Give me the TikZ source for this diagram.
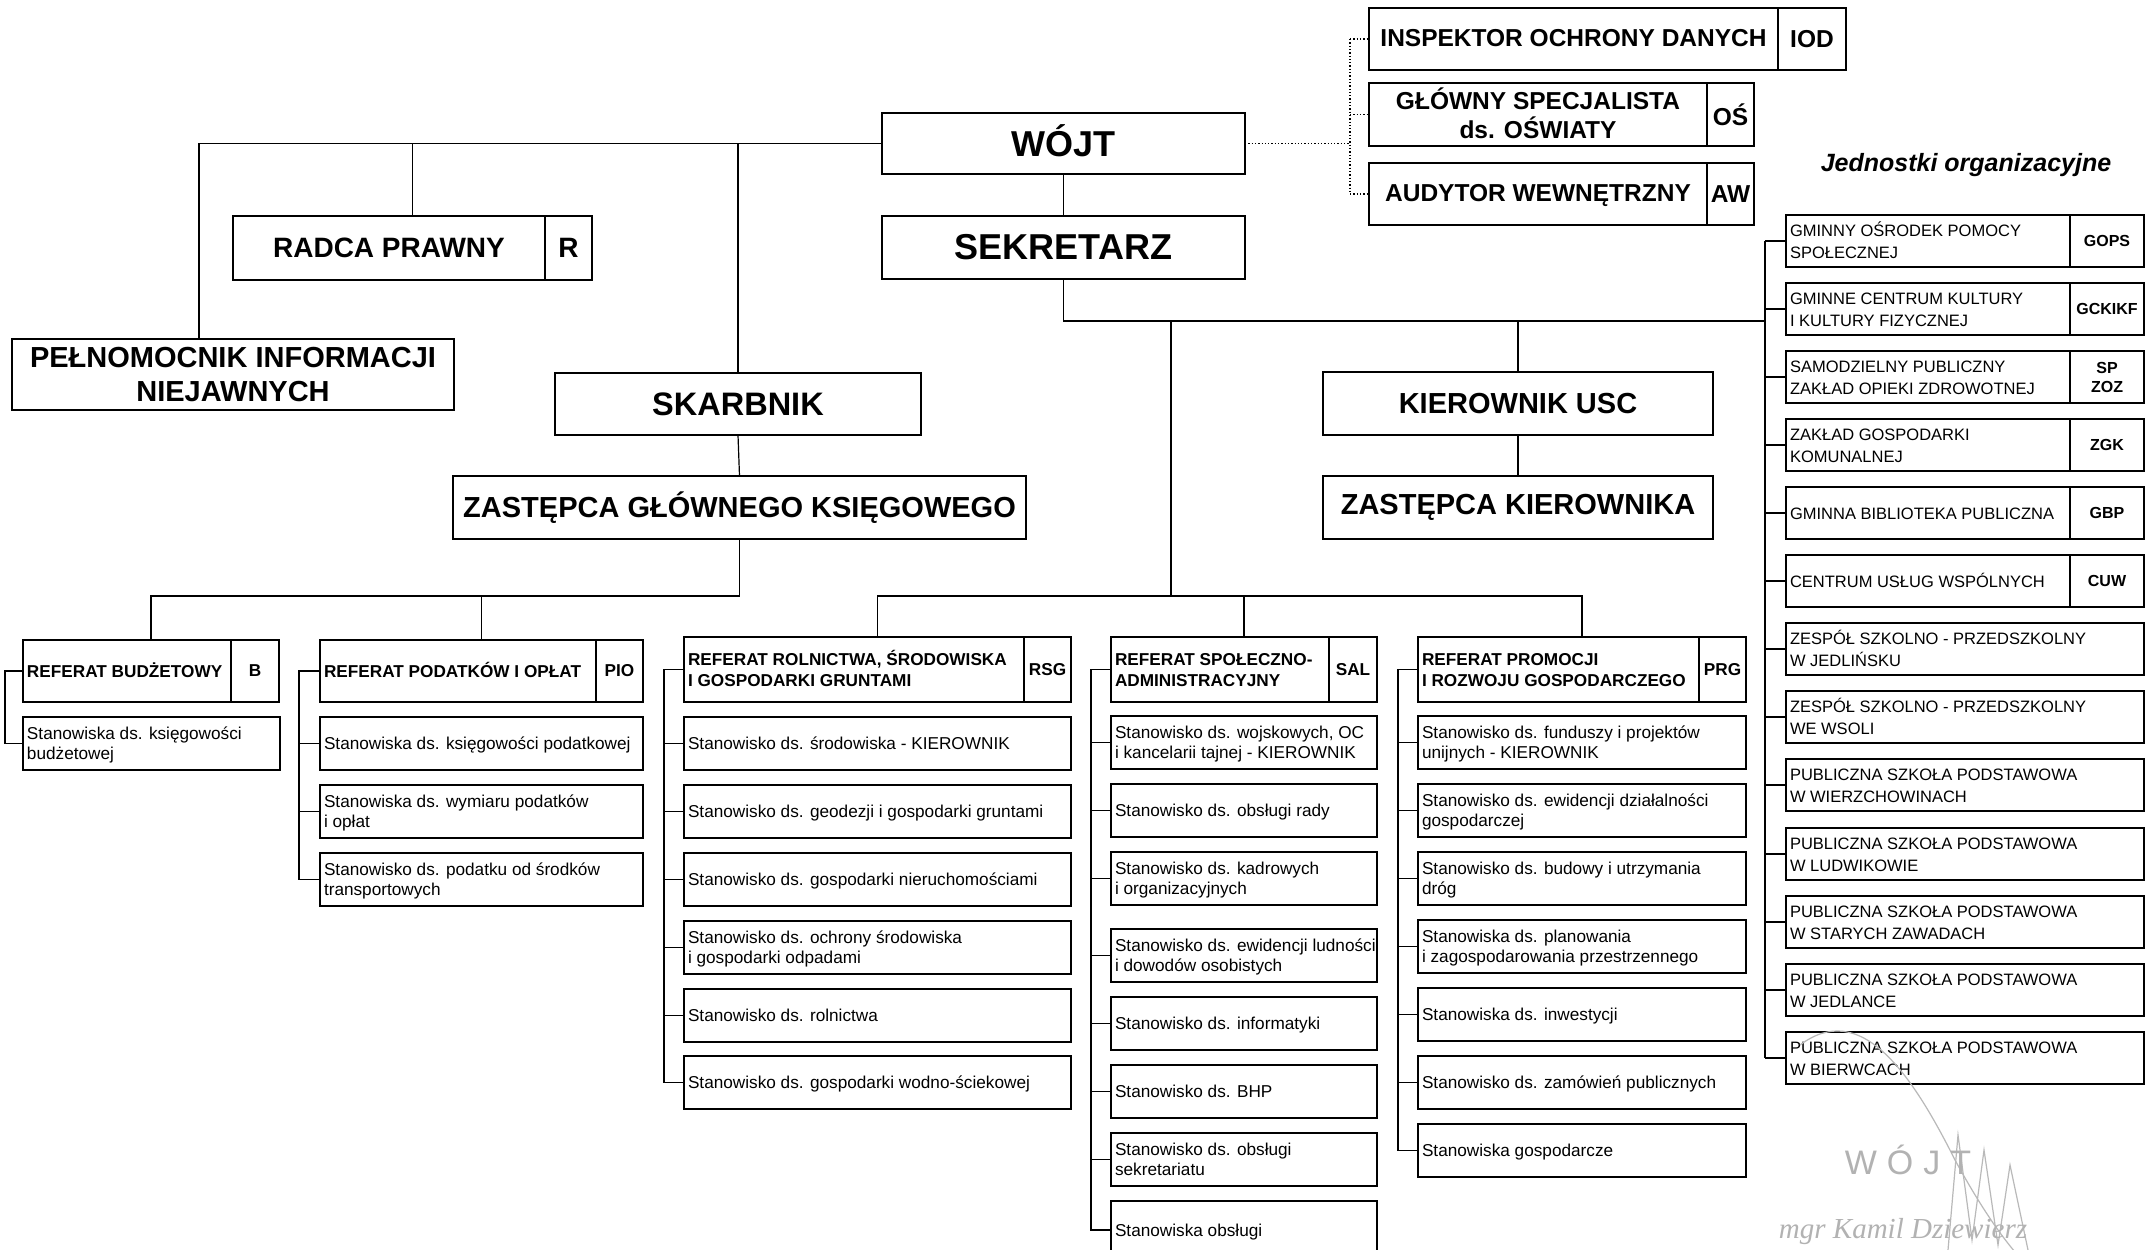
\documentclass[tikz,border=0pt]{standalone}
\usepackage{fontspec}
\setmainfont{Liberation Sans}
\newfontfamily\sigfont{Liberation Serif}
\tikzset{
 obox/.style={draw, line width=1.3pt, inner xsep=4pt, inner ysep=0pt, anchor=north west, outer sep=0pt},
 big/.style={font=\fontsize{29}{34}\selectfont\bfseries},
 top/.style={font=\fontsize{36}{40}\selectfont\bfseries},
 skb/.style={font=\fontsize{32.5}{36}\selectfont\bfseries},
 rp/.style={font=\fontsize{28}{32}\selectfont\bfseries},
 rp code/.style={inner xsep=1pt, font=\fontsize{28}{32}\selectfont\bfseries},
 mid/.style={font=\fontsize{24.5}{26}\selectfont\bfseries},
 mid code/.style={inner xsep=1pt, font=\fontsize{24.5}{26}\selectfont\bfseries},
 hdr/.style={font=\fontsize{17.2}{21}\selectfont\bfseries},
 hdr code/.style={inner xsep=1pt, font=\fontsize{17.2}{21}\selectfont\bfseries},
 sub/.style={font=\fontsize{17.2}{20.5}\selectfont},
 unit/.style={font=\fontsize{16.5}{21.5}\selectfont},
 unit code/.style={inner xsep=1pt, font=\fontsize{16}{19}\selectfont\bfseries},
 conn/.style={line width=1.2pt},
 dotc/.style={line width=1.3pt, dotted},
}
% lowered content with unchanged extents
\newcommand\lowr[1]{\raisebox{-0.1\baselineskip}[\height][\depth]{#1}}
% left-aligned single-cell box
\newcommand\LB[7]{%
  \pgfmathsetmacro\boxw{#5-#3}%
  \pgfmathsetmacro\boxtw{#5-#3-8}%
  \node[obox,#2,minimum width=\boxw pt,minimum height=#6pt] (#1) at (#3,#4)
    {\makebox[\boxtw pt][l]{\lowr{\begin{tabular}{@{}l@{}}#7\end{tabular}}}};}
% centred single-cell box
\newcommand\CB[7]{%
  \pgfmathsetmacro\boxw{#5-#3}%
  \node[obox,#2,minimum width=\boxw pt,minimum height=#6pt,align=center] (#1) at (#3,#4) {#7};}
% box with code cell, left-aligned text
\newcommand\HBl[9]{%
  \pgfmathsetmacro\boxw{#5-#3}%
  \pgfmathsetmacro\boxtw{#5-#3-8}%
  \pgfmathsetmacro\celltw{#7-#3-8}%
  \pgfmathsetmacro\codew{#5-#7}%
  \node[obox,#2,minimum width=\boxw pt,minimum height=#6pt] (#1) at (#3,#4)
    {\makebox[\boxtw pt][l]{\makebox[\celltw pt][l]{\lowr{\begin{tabular}{@{}l@{}}#8\end{tabular}}}}};
  \node[obox,#2 code,minimum width=\codew pt,minimum height=#6pt,align=center] (#1c) at (#7,#4) {#9};}
% box with code cell, centred text
\newcommand\HBc[9]{%
  \pgfmathsetmacro\boxw{#5-#3}%
  \pgfmathsetmacro\boxtw{#5-#3-8}%
  \pgfmathsetmacro\celltw{#7-#3-8}%
  \pgfmathsetmacro\codew{#5-#7}%
  \node[obox,#2,minimum width=\boxw pt,minimum height=#6pt] (#1) at (#3,#4)
    {\makebox[\boxtw pt][l]{\makebox[\celltw pt][c]{\lowr{\begin{tabular}{@{}c@{}}#8\end{tabular}}}}};
  \node[obox,#2 code,minimum width=\codew pt,minimum height=#6pt,align=center] (#1c) at (#7,#4) {#9};}
\begin{document}
\begin{tikzpicture}[x=1pt,y=-1pt]
\fill[white] (0,0) rectangle (2145,1250);
\useasboundingbox (0,0) rectangle (2145,1250);

% ---- top level
\CB{wojt}{top,text height=25.8pt,text depth=0pt}{882}{113}{1245}{61}{WÓJT}
\CB{sek}{top}{882}{216}{1245}{63}{SEKRETARZ}
\HBc{radca}{rp}{233}{216}{592}{64}{545}{RADCA PRAWNY}{R}
\CB{pel}{big}{12}{339}{454}{71}{PEŁNOMOCNIK INFORMACJI\\NIEJAWNYCH}
\CB{skarb}{skb}{555}{373}{921}{62}{SKARBNIK}
\CB{zgl}{big}{453}{476}{1026}{63}{ZASTĘPCA GŁÓWNEGO KSIĘGOWEGO}
\CB{kusc}{big}{1323}{372}{1713}{63}{KIEROWNIK USC}
\CB{zkier}{big}{1323}{476}{1713}{63}{ZASTĘPCA KIEROWNIKA}

% ---- top right
\HBc{iod}{mid}{1369}{8}{1846}{62}{1778}{INSPEKTOR OCHRONY DANYCH}{IOD}
\HBc{os}{mid}{1369}{83}{1754}{63}{1707}{GŁÓWNY SPECJALISTA\\ds. OŚWIATY}{OŚ}
\HBc{aw}{mid}{1369}{163}{1754}{62}{1707}{AUDYTOR WEWNĘTRZNY}{AW}
\node[font=\fontsize{25}{28}\selectfont\bfseries\itshape] (jo) at (1966,165) {Jednostki organizacyjne};

% ---- organisational units
\HBl{u1}{unit}{1786}{215}{2144}{52}{2070}{GMINNY OŚRODEK POMOCY\\SPOŁECZNEJ}{GOPS}
\HBl{u2}{unit}{1786}{283}{2144}{52}{2070}{GMINNE CENTRUM KULTURY\\I KULTURY FIZYCZNEJ}{GCKIKF}
\HBl{u3}{unit}{1786}{351}{2144}{52}{2070}{SAMODZIELNY PUBLICZNY\\ZAKŁAD OPIEKI ZDROWOTNEJ}{SP\\ZOZ}
\HBl{u4}{unit}{1786}{419}{2144}{52}{2070}{ZAKŁAD GOSPODARKI\\KOMUNALNEJ}{ZGK}
\HBl{u5}{unit}{1786}{487}{2144}{52}{2070}{GMINNA BIBLIOTEKA PUBLICZNA}{GBP}
\HBl{u6}{unit}{1786}{555}{2144}{52}{2070}{CENTRUM USŁUG WSPÓLNYCH}{CUW}
\LB{u7}{unit}{1786}{623}{2144}{52}{ZESPÓŁ SZKOLNO - PRZEDSZKOLNY\\W JEDLIŃSKU}
\LB{u8}{unit}{1786}{691}{2144}{52}{ZESPÓŁ SZKOLNO - PRZEDSZKOLNY\\WE WSOLI}
\LB{u9}{unit}{1786}{759}{2144}{52}{PUBLICZNA SZKOŁA PODSTAWOWA\\W WIERZCHOWINACH}
\LB{u10}{unit}{1786}{828}{2144}{52}{PUBLICZNA SZKOŁA PODSTAWOWA\\W LUDWIKOWIE}
\LB{u11}{unit}{1786}{896}{2144}{52}{PUBLICZNA SZKOŁA PODSTAWOWA\\W STARYCH ZAWADACH}
\LB{u12}{unit}{1786}{964}{2144}{52}{PUBLICZNA SZKOŁA PODSTAWOWA\\W JEDLANCE}
\LB{u13}{unit}{1786}{1032}{2144}{52}{PUBLICZNA SZKOŁA PODSTAWOWA\\W BIERWCACH}

% ---- referaty
\HBl{rbud}{hdr}{23}{640}{279}{62}{231}{REFERAT BUDŻETOWY}{B}
\LB{rbud1}{sub}{23}{717}{280}{53}{Stanowiska ds. księgowości\\budżetowej}

\HBl{rpod}{hdr}{320}{640}{643}{62}{596}{REFERAT PODATKÓW I OPŁAT}{PIO}
\LB{rpod1}{sub}{320}{717}{643}{53}{Stanowiska ds. księgowości podatkowej}
\LB{rpod2}{sub}{320}{785}{643}{53}{Stanowiska ds. wymiaru podatków\\i opłat}
\LB{rpod3}{sub}{320}{853}{643}{53}{Stanowisko ds. podatku od środków\\transportowych}

\HBl{rrol}{hdr}{684}{637}{1071}{65}{1024}{REFERAT ROLNICTWA, ŚRODOWISKA\\I GOSPODARKI GRUNTAMI}{RSG}
\LB{rrol1}{sub}{684}{717}{1071}{53}{Stanowisko ds. środowiska - KIEROWNIK}
\LB{rrol2}{sub}{684}{785}{1071}{53}{Stanowisko ds. geodezji i gospodarki gruntami}
\LB{rrol3}{sub}{684}{853}{1071}{53}{Stanowisko ds. gospodarki nieruchomościami}
\LB{rrol4}{sub}{684}{921}{1071}{53}{Stanowisko ds. ochrony środowiska\\i gospodarki odpadami}
\LB{rrol5}{sub}{684}{989}{1071}{53}{Stanowisko ds. rolnictwa}
\LB{rrol6}{sub}{684}{1056}{1071}{53}{Stanowisko ds. gospodarki wodno-ściekowej}

\HBl{rspo}{hdr}{1111}{637}{1377}{65}{1329}{REFERAT SPOŁECZNO-\\ADMINISTRACYJNY}{SAL}
\LB{rspo1}{sub}{1111}{716}{1377}{53}{Stanowisko ds. wojskowych, OC\\i kancelarii tajnej - KIEROWNIK}
\LB{rspo2}{sub}{1111}{784}{1377}{53}{Stanowisko ds. obsługi rady}
\LB{rspo3}{sub}{1111}{852}{1377}{53}{Stanowisko ds. kadrowych\\i organizacyjnych}
\LB{rspo4}{sub}{1111}{929}{1377}{53}{Stanowisko ds. ewidencji ludności\\i dowodów osobistych}
\LB{rspo5}{sub}{1111}{997}{1377}{53}{Stanowisko ds. informatyki}
\LB{rspo6}{sub}{1111}{1065}{1377}{53}{Stanowisko ds. BHP}
\LB{rspo7}{sub}{1111}{1133}{1377}{53}{Stanowisko ds. obsługi\\sekretariatu}
\LB{rspo8}{sub}{1111}{1201}{1377}{58}{Stanowiska obsługi}

\HBl{rpro}{hdr}{1418}{637}{1746}{65}{1699}{REFERAT PROMOCJI\\I ROZWOJU GOSPODARCZEGO}{PRG}
\LB{rpro1}{sub}{1418}{716}{1746}{53}{Stanowisko ds. funduszy i projektów\\unijnych - KIEROWNIK}
\LB{rpro2}{sub}{1418}{784}{1746}{53}{Stanowisko ds. ewidencji działalności\\gospodarczej}
\LB{rpro3}{sub}{1418}{852}{1746}{53}{Stanowisko ds. budowy i utrzymania\\dróg}
\LB{rpro4}{sub}{1418}{920}{1746}{53}{Stanowiska ds. planowania\\i zagospodarowania przestrzennego}
\LB{rpro5}{sub}{1418}{988}{1746}{53}{Stanowiska ds. inwestycji}
\LB{rpro6}{sub}{1418}{1056}{1746}{53}{Stanowisko ds. zamówień publicznych}
\LB{rpro7}{sub}{1418}{1124}{1746}{53}{Stanowiska gospodarcze}

% ---- connectors
\coordinate (jL) at (739,596);
\coordinate (jR) at (1171,596);
\coordinate (ubus) at (1765,321);
\coordinate (dbus) at (1350,143);

\draw[conn] (wojt.west) -| ([xshift=187pt]pel.north west);
\draw[conn] (wojt.west -| radca.north) -- (radca.north);
\draw[conn] (wojt.west -| skarb.north) -- (skarb.north);
\draw[conn] (wojt.south) -- (sek.north);
\draw[conn] (skarb.south) -- (zgl.north);
\draw[conn] (zgl.south) -- (zgl.south |- jL) -| (rbud.north);
\draw[conn] (zgl.south |- jL) -| (rpod.north);

\draw[conn] (sek.south) |- (ubus);
\draw[conn] (kusc.north |- ubus) -- (kusc.north);
\draw[conn] (kusc.south) -- (zkier.north);
\draw[conn] (jR |- ubus) -- (jR);
\draw[conn] (rrol.north) |- (jR) -| (rpro.north);
\draw[conn] (rspo.north) -- (rspo.north |- jR);

\draw[conn] (u1.west -| ubus) -- (u13.west -| ubus);
\foreach \i in {1,...,13} \draw[conn] (u\i.west) -- (u\i.west -| ubus);

\draw[dotc] (wojt.east) -- (wojt.east -| dbus);
\draw[dotc] (iod.west -| dbus) -- (aw.west -| dbus);
\foreach \n in {iod,os,aw} \draw[dotc] (\n.west -| dbus) -- (\n.west);

\draw[conn] (rbud.west) -- ++(-18,0) coordinate (bb) |- (rbud1.west);
\draw[conn] (rpod.west) -- ++(-21,0) coordinate (bpd) |- (rpod3.west);
\foreach \k in {1,2} \draw[conn] (rpod\k.west) -- (rpod\k.west -| bpd);
\draw[conn] (rrol.west) -- ++(-20,0) coordinate (brl) |- (rrol6.west);
\foreach \k in {1,...,5} \draw[conn] (rrol\k.west) -- (rrol\k.west -| brl);
\draw[conn] (rspo.west) -- ++(-20,0) coordinate (bsp) |- (rspo8.west);
\foreach \k in {1,...,7} \draw[conn] (rspo\k.west) -- (rspo\k.west -| bsp);
\draw[conn] (rpro.west) -- ++(-20,0) coordinate (bpr) |- (rpro7.west);
\foreach \k in {1,...,6} \draw[conn] (rpro\k.west) -- (rpro\k.west -| bpr);

% ---- signature stamp
\draw[gray!55, line width=1.2pt] (1800,1045) .. controls (1860,1000) and (1910,1070) .. (1955,1160) .. controls (1985,1215) and (2005,1240) .. (2015,1252);
\draw[gray!55, line width=1.2pt] (1948,1250) -- (1958,1135) -- (1972,1240) -- (1984,1150) -- (1998,1245) -- (2010,1165) -- (2028,1250);
\node[text=gray!60, font=\fontsize{34}{34}\selectfont] (sigw) at (1908,1160) {W\hspace{10pt}Ó\hspace{10pt}J\hspace{10pt}T};
\node[text=gray!60, font=\sigfont\fontsize{29}{29}\selectfont\itshape, anchor=base] (sign) at (1903,1238) {mgr Kamil Dziewierz};
\end{tikzpicture}
\end{document}
